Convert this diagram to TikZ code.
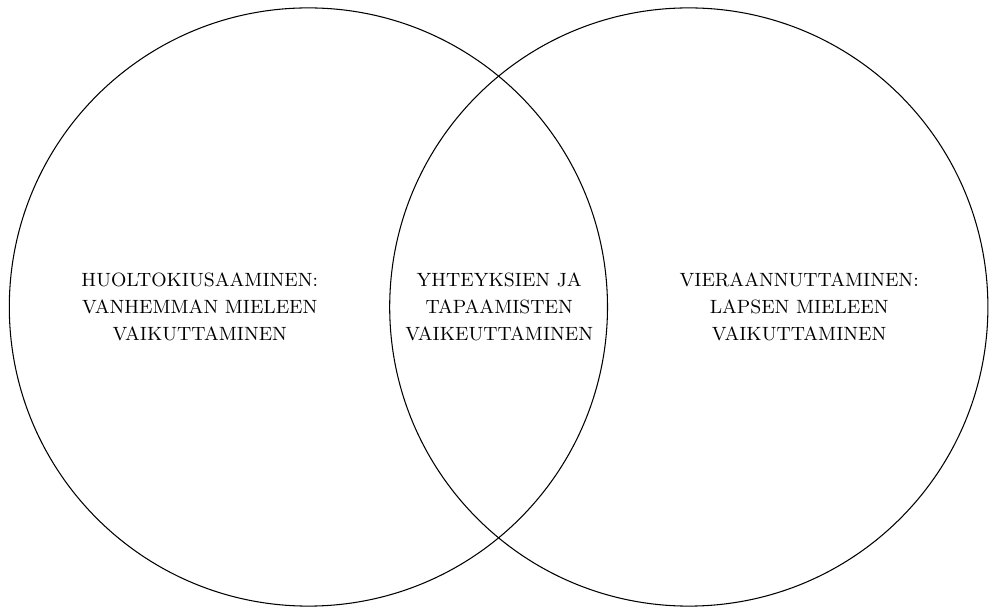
\documentclass[tikz,border=0pt]{standalone}
\begin{document}
\begin{tikzpicture}[
  setc/.style={draw=black, line width=0.5pt, circle, minimum size=9.97cm, inner sep=0pt},
  lbl/.style={align=center, font=\fontsize{9.1}{12.8}\selectfont}
]
\useasboundingbox (0,0) rectangle (16.5,10.1667);
\node[setc] (L) at (5.14,5.05) {};
\node[setc] (R) at (11.48,5.05) {};
\node[lbl] (tl) at (3.33,5.05) {HUOLTOKIUSAAMINEN:\\VANHEMMAN MIELEEN\\VAIKUTTAMINEN};
\node[lbl] (tm) at (8.32,5.05) {YHTEYKSIEN JA\\TAPAAMISTEN\\VAIKEUTTAMINEN};
\node[lbl] (tr) at (13.32,5.05) {VIERAANNUTTAMINEN:\\LAPSEN MIELEEN\\VAIKUTTAMINEN};
\end{tikzpicture}
\end{document}
